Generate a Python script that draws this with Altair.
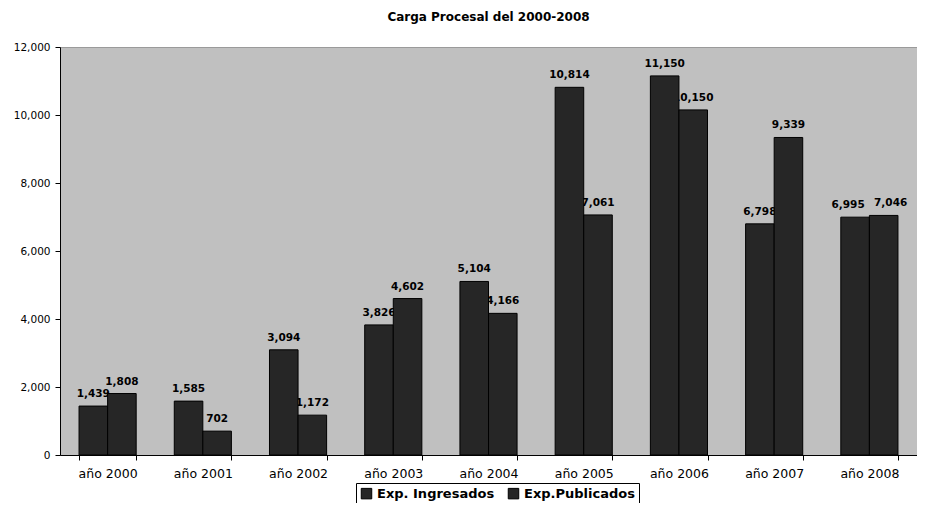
import altair as alt
import pandas as pd

years = ["año 2000", "año 2001", "año 2002", "año 2003", "año 2004",
         "año 2005", "año 2006", "año 2007", "año 2008"]
ingresados = [1439, 1585, 3094, 3826, 5104, 10814, 11150, 6798, 6995]
publicados = [1808, 702, 1172, 4602, 4166, 7061, 10150, 9339, 7046]
series = ["Exp. Ingresados", "Exp.Publicados"]

rows = []
for y, a, b in zip(years, ingresados, publicados):
    close = abs(a - b) < 300  # labels would collide: push them apart
    rows.append({"year": y, "serie": series[0], "value": a, "close": close})
    rows.append({"year": y, "serie": series[1], "value": b, "close": close})
df = pd.DataFrame(rows)

FONT = "DejaVu Sans"

yenc = alt.Y("value:Q", title=None,
             scale=alt.Scale(domain=[0, 12000]),
             axis=alt.Axis(values=list(range(0, 12001, 2000)), format=",.0f",
                           grid=False, labelFont=FONT, labelFontSize=10.5,
                           labelColor="#000000", domainColor="#000000",
                           tickColor="#000000", tickSize=5, labelPadding=5))

base = alt.Chart(df).encode(
    x=alt.X("year:N", sort=years, title=None,
            scale=alt.Scale(paddingInner=0.4, paddingOuter=0.2),
            axis=alt.Axis(labelAngle=0, tickBand="extent", labelFont=FONT,
                          labelFontSize=12.5, labelColor="#000000",
                          domainColor="#000000", tickColor="#000000",
                          tickSize=5, labelPadding=7)),
    xOffset=alt.XOffset("serie:N", sort=series, scale=alt.Scale(domain=series)),
    y=yenc,
)

bars = base.mark_bar(stroke="#000000", strokeWidth=1).encode(
    color=alt.Color("serie:N", sort=series,
                    scale=alt.Scale(domain=series, range=["#262626", "#262626"]),
                    legend=alt.Legend(title=None, orient="none", direction="horizontal",
                                      legendX=296, legendY=436, columns=2,
                                      symbolType="square", symbolSize=110,
                                      symbolStrokeColor="#000000", symbolStrokeWidth=1,
                                      labelFont=FONT, labelFontSize=13,
                                      labelFontWeight="bold", labelColor="#000000",
                                      strokeColor="#000000", padding=4,
                                      columnPadding=11, symbolOffset=0,
                                      labelOffset=4)),
)

txt = dict(baseline="bottom", dy=-7, font=FONT, fontSize=10.5,
           fontWeight="bold", color="#000000")
label_text = alt.Text("value:Q", format=",")

labels_normal = base.transform_filter("!datum.close").mark_text(**txt).encode(text=label_text)
labels_left = base.transform_filter(
    f"datum.close && datum.serie == '{series[0]}'").mark_text(dx=-7, **txt).encode(text=label_text)
labels_right = base.transform_filter(
    f"datum.close && datum.serie == '{series[1]}'").mark_text(dx=7, **txt).encode(text=label_text)

chart = alt.layer(labels_normal, labels_left, labels_right, bars).properties(
    width=857, height=408,
    autosize=alt.AutoSizeParams(type="none"),
    padding={"left": 52, "top": 39, "right": 0, "bottom": 48},
    background="#FFFFFF",
    title=alt.Title("Carga Procesal del 2000-2008", font=FONT, fontSize=12,
                    fontWeight="bold", color="#000000", offset=18),
).configure_view(fill="#C0C0C0", stroke="#9A9A9A")

chart.save("out.html", embed_options={"renderer": "svg", "actions": False})
